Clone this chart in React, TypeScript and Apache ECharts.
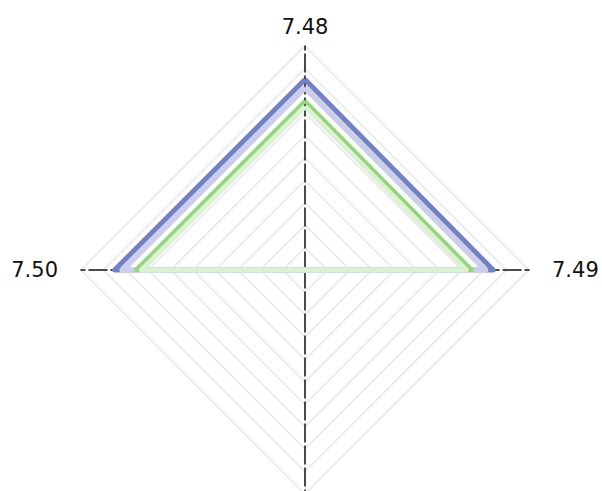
import React, { useEffect, useRef } from "react";
import * as echarts from "echarts";

// indicators in ECharts order: top, left, bottom, right (counter-clockwise)
const indicatorNames = ["7.48", "7.50", "", "7.49"];
const indicatorMax = [100, 100, 100, 100];
const seriesNames = ["A", "A2", "B", "B2"];
const valuesA = [85, 85, 0, 84];
const valuesA2 = [81.5, 81.5, 0, 80.5];
const valuesB = [75.5, 75.5, 0, 74.5];
const valuesB2 = [73, 73, 0, 72];
const seriesColors = ["#7480c4", "#cbcfeb", "#93d57d", "#daf2d0"];
const seriesWidths = [5, 6, 4, 5];

export default function App() {
  const ref = useRef<HTMLDivElement>(null);
  useEffect(() => {
    if (!ref.current) return;
    const chart = echarts.init(ref.current, null, { renderer: "svg" });
    const allValues = [valuesA, valuesA2, valuesB, valuesB2];
    chart.setOption({
      animation: false,
      textStyle: { fontFamily: "DejaVu Sans" },
      radar: {
        center: [305, 270],
        radius: 224,
        shape: "polygon",
        splitNumber: 10,
        startAngle: 90,
        nameGap: 9,
        axisName: {
          color: "#111",
          fontSize: 21,
          fontFamily: "DejaVu Sans",
          padding: [0, 14, 0, 14],
        },
        indicator: indicatorNames.map((n, i) => ({ name: n, max: indicatorMax[i], min: 0 })),
        splitLine: { lineStyle: { color: "#ececec", width: 2 } },
        splitArea: { show: false },
        axisLine: { lineStyle: { color: "#111", width: 1.5, type: [18, 4] } },
      },
      series: allValues.map((v, i) => ({
        type: "radar",
        name: seriesNames[i],
        symbol: "none",
        z: 2 + i,
        lineStyle: { color: seriesColors[i], width: seriesWidths[i] },
        itemStyle: { color: seriesColors[i] },
        data: [{ value: v, name: seriesNames[i] }],
      })),
    });
    return () => chart.dispose();
  }, []);
  return (
    <div
      ref={ref}
      style={{ position: "absolute", left: 0, top: 0, width: 602, height: 491 }}
    />
  );
}
